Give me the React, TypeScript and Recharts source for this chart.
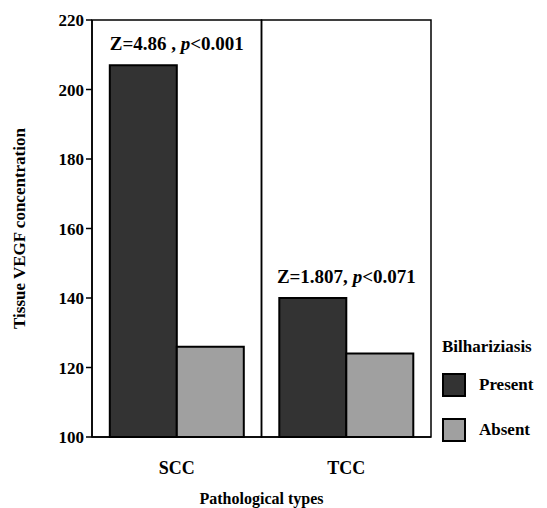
import React from 'react';
import {
    BarChart, Bar, XAxis, YAxis, Legend, ReferenceArea, LabelList, Label
} from 'recharts';

const categories = ['SCC', 'TCC'];
const seriesNames = ['Present', 'Absent'];
const presentValues = [207, 140];
const absentValues = [126, 124];
const zValues = ['4.86 ,', '1.807,'];
const pValues = ['<0.001', '<0.071'];
const yTicks = [100, 120, 140, 160, 180, 200, 220];

const data = categories.map((c, i) => ({
    type: c,
    Present: presentValues[i],
    Absent: absentValues[i],
    z: zValues[i],
    p: pValues[i],
}));

const FONT = 'Liberation Serif';
const BLACK = '#000000';
const PRESENT_COLOR = '#333333';
const ABSENT_COLOR = '#a0a0a0';

// Z / p annotation centred over each category, just above the taller bar
const StatLabel = (props: any) => {
    const { x, y, width, index } = props;
    const row = data[index];
    return (
        <text x={x + width} y={y - 15} textAnchor="middle" style={{ fontFamily: FONT, fontWeight: 'bold', fontSize: 19 }} fill={BLACK}>
            <tspan>{`Z=${row.z} `}</tspan>
            <tspan fontStyle="italic">p</tspan>
            <tspan>{row.p}</tspan>
        </text>
    );
};

const LegendBox = (props: any) => {
    const { payload = [] } = props;
    const items = [...payload].sort((a: any, b: any) => seriesNames.indexOf(a.value) - seriesNames.indexOf(b.value));
    return (
        <div style={{ fontFamily: FONT, fontWeight: 'bold', color: BLACK }}>
            <div style={{ fontSize: 17, lineHeight: '20px', marginBottom: 16 }}>Bilhariziasis</div>
            {items.map((entry: any) => (
                <div key={entry.value} style={{ display: 'flex', alignItems: 'center', marginBottom: 21 }}>
                    <div style={{ width: 20, height: 20, border: '2px solid #000', background: entry.color, marginRight: 13 }} />
                    <span style={{ fontSize: 17 }}>{entry.value}</span>
                </div>
            ))}
        </div>
    );
};

const tickStyle = { fill: BLACK, fontFamily: FONT, fontWeight: 'bold', fontSize: 17 };

export default function App() {
    return (
        <div style={{ position: 'absolute', left: 0, top: 0 }}>
            <BarChart
                width={547}
                height={508}
                data={data}
                margin={{ top: 20, right: 116, left: 0, bottom: 0 }}
                barCategoryGap="10.5%"
                barGap={0}
            >
                {categories.map((c) => (
                    <ReferenceArea key={c} x1={c} x2={c} y1={100} y2={220} fill="none" stroke={BLACK} strokeWidth={1.5} ifOverflow="visible" />
                ))}
                <XAxis
                    dataKey="type"
                    height={71}
                    tickLine={false}
                    tickMargin={18}
                    axisLine={{ stroke: BLACK, strokeWidth: 1.5 }}
                    tick={{ ...tickStyle, fontSize: 18 }}
                >
                    <Label value="Pathological types" position="insideBottom" offset={4} style={{ fill: BLACK, fontFamily: FONT, fontWeight: 'bold', fontSize: 16 }} />
                </XAxis>
                <YAxis
                    width={92}
                    domain={[100, 220]}
                    ticks={yTicks}
                    interval={0}
                    axisLine={{ stroke: BLACK, strokeWidth: 1.5 }}
                    tickLine={{ stroke: BLACK, strokeWidth: 1.5 }}
                    tick={tickStyle}
                >
                    <Label
                        value="Tissue VEGF concentration"
                        angle={-90}
                        position="insideLeft"
                        offset={19}
                        style={{ textAnchor: 'middle', fill: BLACK, fontFamily: FONT, fontWeight: 'bold', fontSize: 17 }}
                    />
                </YAxis>
                <Legend
                    layout="vertical"
                    align="center"
                    verticalAlign="middle"
                    content={<LegendBox />}
                    wrapperStyle={{ left: 442, top: 337, width: 105 }}
                />
                <Bar dataKey="Present" fill={PRESENT_COLOR} stroke={BLACK} strokeWidth={2} isAnimationActive={false}>
                    <LabelList dataKey="z" content={<StatLabel />} />
                </Bar>
                <Bar dataKey="Absent" fill={ABSENT_COLOR} stroke={BLACK} strokeWidth={2} isAnimationActive={false} />
            </BarChart>
        </div>
    );
}
